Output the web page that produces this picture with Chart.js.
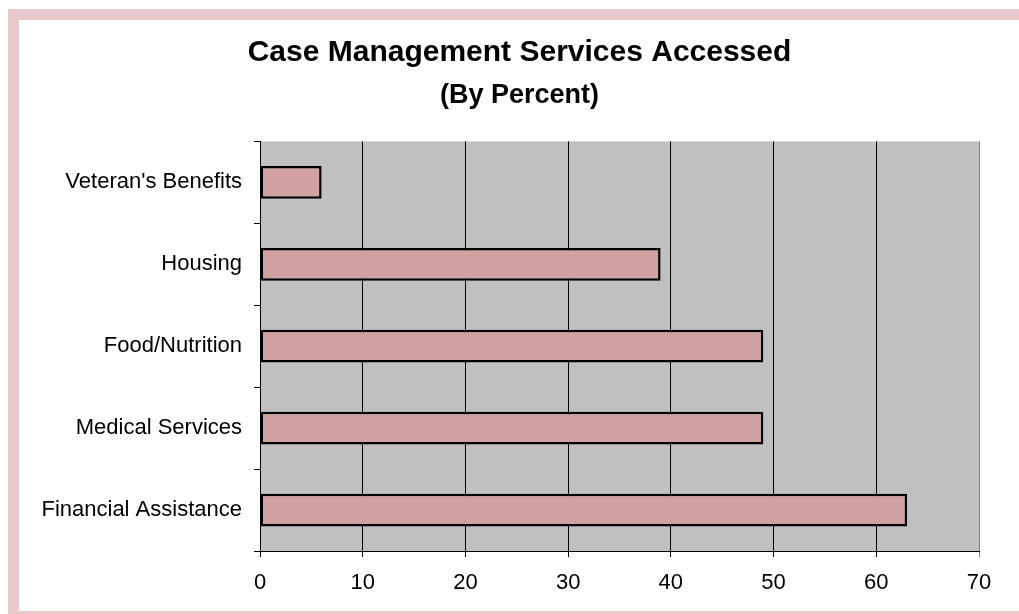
<!DOCTYPE html>
<html>
<head>
<meta charset="utf-8">
<script src="https://cdn.jsdelivr.net/npm/chart.js@4"></script>
<style>
    body { margin: 0; background: #fff; overflow: hidden; }
    .frame {
        position: absolute;
        left: 8px;
        top: 9px;
        width: 1001px;
        height: 591px;
        border: 11px solid #e8c9c9;
        background: #fff;
    }
</style>
</head>
<body>
<div class="frame">
    <canvas id="servicesChart" width="1001" height="591"></canvas>
</div>
<script>
// ========= DATA =========
const categories = ["Veteran's Benefits", 'Housing', 'Food/Nutrition', 'Medical Services', 'Financial Assistance'];
const percentValues = [6, 39, 49, 49, 63];
const xTicks = [0, 10, 20, 30, 40, 50, 60, 70];

// gray plot background
const plotBackground = {
    id: 'plotBackground',
    beforeDraw(chart) {
        const { ctx, chartArea: a } = chart;
        ctx.save();
        ctx.fillStyle = '#c0c0c0';
        ctx.fillRect(a.left, a.top, a.right - a.left, a.bottom - a.top);
        ctx.restore();
    }
};

Chart.defaults.font.family = "'Liberation Sans', Arial, sans-serif";
Chart.defaults.color = '#000';

const ctx = document.getElementById('servicesChart').getContext('2d');

new Chart(ctx, {
    type: 'bar',
    data: {
        labels: categories,
        datasets: [{
            data: percentValues,
            backgroundColor: '#d1a0a0',
            borderColor: '#000',
            borderWidth: 2.5,
            borderSkipped: false,
            barPercentage: 0.4,
            categoryPercentage: 1
        }]
    },
    options: {
        indexAxis: 'y',
        responsive: false,
        animation: false,
        layout: {
            padding: 0
        },
        scales: {
            x: {
                min: xTicks[0],
                max: xTicks[xTicks.length - 1],
                afterBuildTicks: scale => {
                    scale.ticks = xTicks.map(v => ({ value: v }));
                },
                afterFit: scale => {
                    scale.height = 60;
                    scale.paddingRight = 41;   // room on the right without shifting the title
                },
                grid: {
                    color: c => (c.tick && c.tick.value === 70 ? '#808080' : '#000'),
                    lineWidth: 1,
                    tickLength: 6
                },
                border: { color: '#000', width: 1 },
                ticks: {
                    font: { size: 22 },
                    padding: 13,
                    maxRotation: 0
                }
            },
            y: {
                afterFit: scale => { scale.width = 241; },
                grid: {
                    drawOnChartArea: false,
                    drawTicks: true,
                    tickLength: 6,
                    offset: true,
                    color: '#000'
                },
                border: { color: '#000', width: 1 },
                ticks: {
                    font: { size: 22 },
                    padding: 12
                }
            }
        },
        plugins: {
            legend: { display: false },
            tooltip: { enabled: false },
            title: {
                display: true,
                text: 'Case Management Services Accessed',
                font: { size: 30, weight: 'bold' },
                padding: { top: 15, bottom: 8 }
            },
            subtitle: {
                display: true,
                text: '(By Percent)',
                color: '#000',
                font: { size: 27, weight: 'bold' },
                padding: { top: 0, bottom: 30 }
            }
        }
    },
    plugins: [plotBackground]
});
</script>
</body>
</html>
